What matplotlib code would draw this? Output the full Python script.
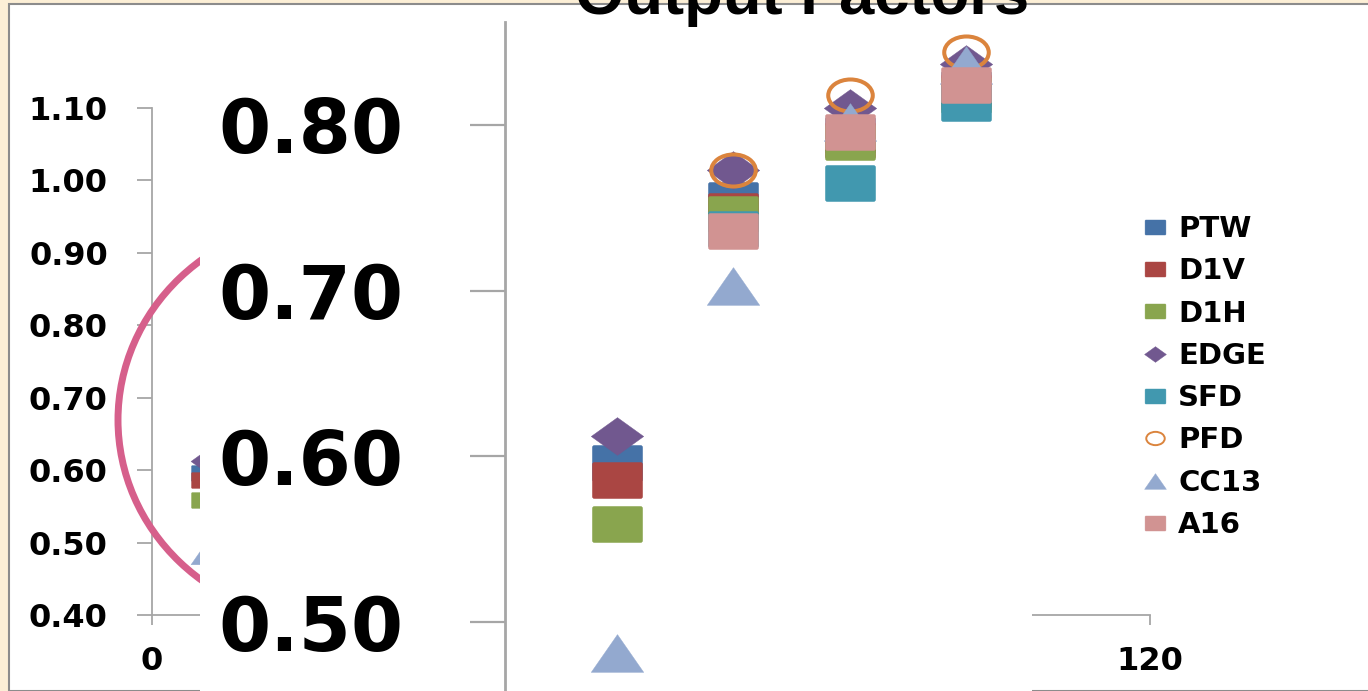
import numpy as np
import matplotlib
matplotlib.use("Agg")
import matplotlib.pyplot as plt
from matplotlib.path import Path
from matplotlib.patches import Rectangle, Ellipse

# Output factor measurements per detector (field size in mm)
field_size = [6, 12, 18, 24]
ptw = [0.596, 0.755, 0.794, 0.822]
d1v = [0.586, 0.748, 0.791, 0.820]
d1h = [0.559, 0.746, 0.790, 0.818]
edge = [0.612, 0.773, 0.810, 0.837]
sfd = [np.nan, 0.737, 0.765, 0.813]
pfd = [np.nan, 0.773, 0.818, 0.844]
cc13 = [0.481, 0.703, 0.802, 0.836]
a16 = [np.nan, 0.736, 0.796, 0.824]

series_names = ["PTW", "D1V", "D1H", "EDGE", "SFD", "PFD", "CC13", "A16"]
series_values = [ptw, d1v, d1h, edge, sfd, pfd, cc13, a16]

main_yticks = [0.40, 0.50, 0.60, 0.70, 0.80, 0.90, 1.00, 1.10]
main_xticks = [0, 20, 40, 60, 80, 100, 120]
zoom_yticks = [0.50, 0.60, 0.70, 0.80]

W, H = 1368, 691
plt.rcParams["font.family"] = ["DejaVu Sans"]
plt.rcParams["font.weight"] = "bold"

fig = plt.figure(figsize=(W / 100, H / 100), dpi=100)
fig.patch.set_facecolor("#FCEFD6")


def fx(px):
    return px / W


def fy(py):
    return 1 - py / H


# Markers are drawn slightly wider than tall
SX = 1.39


def rounded_box(a, b, r):
    verts = [(-a + r, -b), (a - r, -b), (a, -b), (a, -b + r), (a, b - r), (a, b),
             (a - r, b), (-a + r, b), (-a, b), (-a, b - r), (-a, -b + r), (-a, -b),
             (-a + r, -b), (-a + r, -b)]
    codes = [Path.MOVETO, Path.LINETO, Path.CURVE3, Path.CURVE3, Path.LINETO,
             Path.CURVE3, Path.CURVE3, Path.LINETO, Path.CURVE3, Path.CURVE3,
             Path.LINETO, Path.CURVE3, Path.CURVE3, Path.CLOSEPOLY]
    return Path(verts, codes)


square = rounded_box(SX, 1.0, 0.12)
diamond = Path([(0, 1), (-SX, 0), (0, -1), (SX, 0), (0, 1)],
               [Path.MOVETO, Path.LINETO, Path.LINETO, Path.LINETO, Path.CLOSEPOLY])
triangle = Path([(0, 1), (-SX, -1), (SX, -1), (0, 1)],
                [Path.MOVETO, Path.LINETO, Path.LINETO, Path.CLOSEPOLY])
uc = Path.unit_circle()
ring = Path(uc.vertices * np.array([SX, 1.0]), uc.codes)

styles = {
    "PTW": (square, "#4572A7", True),
    "D1V": (square, "#AA4643", True),
    "D1H": (square, "#89A54E", True),
    "EDGE": (diamond, "#71588F", True),
    "SFD": (square, "#4198AF", True),
    "PFD": (ring, "#DB843D", False),
    "CC13": (triangle, "#93A9CF", True),
    "A16": (square, "#D19392", True),
}


def draw_series(ax, scale, ring_lw):
    handles = []
    for name, vals in zip(series_names, series_values):
        path, color, filled = styles[name]
        if path is square:
            ms = 15.8
        elif path is ring:
            ms = 14.0
        else:
            ms = 16.5
        ms *= scale
        if filled:
            (h,) = ax.plot(field_size, vals, linestyle="none", marker=path,
                           markersize=ms, markerfacecolor=color,
                           markeredgecolor=color, markeredgewidth=0.3, label=name)
        else:
            (h,) = ax.plot(field_size, vals, linestyle="none", marker=path,
                           markersize=ms, markerfacecolor="none",
                           markeredgecolor=color, markeredgewidth=ring_lw, label=name)
        handles.append(h)
    return handles


# Chart panel
panel = Rectangle((fx(9), 0), 1 - fx(9) + 0.01, fy(4), transform=fig.transFigure,
                  facecolor="white", edgecolor="#8C8C8C", linewidth=1.5, zorder=0)
fig.add_artist(panel)

# Full-range chart
ax = fig.add_axes([fx(152), fy(615), (1150 - 152) / W, (615 - 108) / H])
ax.set_zorder(1)
ax.patch.set_facecolor("none")
handles = draw_series(ax, 1.0, 1.4)
ax.set_xlim(0, 120)
ax.set_ylim(0.40, 1.10)
ax.set_xticks(main_xticks)
ax.set_yticks(main_yticks)
ax.set_xticklabels(["0", "", "", "", "", "", "120"])
ax.set_yticklabels([f"{v:.2f}" for v in main_yticks])
for side in ("top", "right"):
    ax.spines[side].set_visible(False)
for side in ("left", "bottom"):
    ax.spines[side].set_color("#A6A6A6")
    ax.spines[side].set_linewidth(1.3)
ax.tick_params(axis="y", direction="out", length=10.8, width=1.3, color="#A6A6A6",
               pad=21, labelsize=23)
ax.tick_params(axis="x", direction="out", length=7.5, width=1.3, color="#A6A6A6",
               pad=15, labelsize=23)

leg = ax.legend(handles=handles, labels=series_names, loc="upper left",
                bbox_to_anchor=(fx(1141), fy(215)), bbox_transform=fig.transFigure,
                frameon=False, prop={"size": 21, "weight": "bold"}, markerscale=0.95,
                handlelength=0.95, handletextpad=0.33, labelspacing=0.49,
                borderpad=0, borderaxespad=0, numpoints=1)

# Magnifier ring
ring_patch = Ellipse((fx(329), fy(420)), 422 / W, 402 / H, transform=fig.transFigure,
                     facecolor="none", edgecolor="#D65F8B", linewidth=5, zorder=2)
fig.add_artist(ring_patch)

# Magnified view
cover = Rectangle((fx(200), 0), (1032 - 200) / W, fy(18), transform=fig.transFigure,
                  facecolor="white", edgecolor="none", zorder=3)
fig.add_artist(cover)

px_per_mm = 19.4
px_per_unit = 1656.7
x_left = 0.23
axz = fig.add_axes([fx(505), 0, (1032 - 505) / W, (H - 22) / H])
axz.set_zorder(4)
axz.patch.set_facecolor("none")
draw_series(axz, 2.29, 2.9)
axz.set_xlim(x_left, x_left + (1032 - 505) / px_per_mm)
axz.set_ylim(0.80 - (691 - 125) / px_per_unit, 0.80 + (125 - 22) / px_per_unit)
axz.set_yticks(zoom_yticks)
axz.set_yticklabels([f"{v:.2f}" for v in zoom_yticks])
axz.set_xticks([])
for side in ("top", "right", "bottom"):
    axz.spines[side].set_visible(False)
axz.spines["left"].set_color("#A6A6A6")
axz.spines["left"].set_linewidth(2.0)
axz.tick_params(axis="y", direction="out", length=25, width=1.6, color="#A6A6A6",
                pad=48, labelsize=54)

fig.text(fx(802), fy(14), "Output Factors", ha="center", va="baseline",
         fontsize=45.6, fontweight="bold", family=["Liberation Sans", "DejaVu Sans"],
         zorder=5)

fig.savefig("out.png", dpi=100, facecolor=fig.get_facecolor())
